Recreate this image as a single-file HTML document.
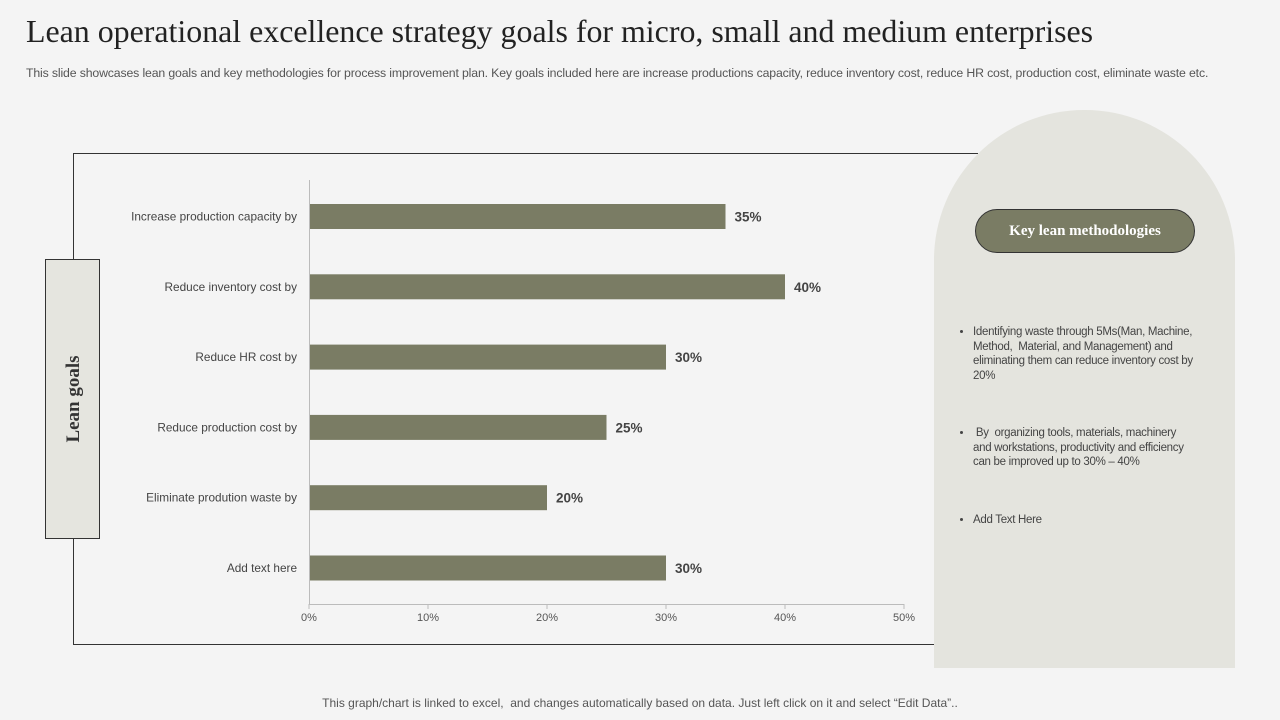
<!DOCTYPE html>
<html><head><meta charset="utf-8"><style>
body{margin:0;width:1280px;height:720px;background:#f4f4f4;overflow:hidden;position:relative;font-family:"Liberation Sans",sans-serif}
.abs{position:absolute}
</style></head><body>
<div class="abs" style="left:26px;top:14px;font-family:'Liberation Serif',serif;font-size:31.9px;color:#222;white-space:nowrap">Lean operational excellence strategy goals for micro, small and medium enterprises</div>
<div class="abs" style="left:26px;top:66px;font-size:12.3px;color:#555;white-space:nowrap;letter-spacing:-0.15px">This slide showcases lean goals and key methodologies for process improvement plan. Key goals included here are increase productions capacity, reduce inventory cost, reduce HR cost, production cost, eliminate waste etc.</div>
<svg class="abs" style="left:0;top:0" width="1280" height="720" id="chart">
<polyline points="978,153.5 73.5,153.5 73.5,644.5 934,644.5" fill="none" stroke="#333" stroke-width="1"/>
<rect x="45.5" y="259.5" width="54" height="279" fill="#e5e5df" stroke="#333"/>
<text transform="translate(79,399) rotate(-90)" text-anchor="middle" font-family="Liberation Serif,serif" font-weight="bold" font-size="19" fill="#333">Lean goals</text>
<line x1="309.5" y1="180" x2="309.5" y2="604" stroke="#bbb"/>
<line x1="309" y1="604.5" x2="904" y2="604.5" stroke="#bbb"/>
<g id="marks"></g>
</svg>
<div class="abs" style="left:934px;top:110px;width:301px;height:558px;background:#e4e4de;border-radius:150px 150px 0 0"></div>
<div class="abs" style="left:975px;top:209px;width:218px;height:42px;background:#7a7c64;border:1px solid #333;border-radius:22px;color:#fff;font-family:'Liberation Serif',serif;font-weight:bold;font-size:15px;text-align:center;line-height:42px">Key lean methodologies</div>
<ul class="abs" style="left:953px;top:325px;width:244px;margin:0;padding:0 0 0 20px;font-size:11.5px;color:#444;line-height:14.5px;letter-spacing:-0.3px">
<li style="margin-bottom:43px">Identifying waste through 5Ms(Man, Machine, Method,&nbsp; Material, and Management) and eliminating them can reduce inventory cost by 20%</li>
<li style="margin-bottom:43px">&nbsp;By&nbsp; organizing tools, materials, machinery<br>and workstations, productivity and efficiency<br>can be improved up to 30% – 40%</li>
<li>Add Text Here</li>
</ul>
<div class="abs" style="left:0;width:1280px;top:696px;text-align:center;font-size:12px;color:#555">This graph/chart is linked to excel,&nbsp; and changes automatically based on data. Just left click on it and select “Edit Data”..</div>
<script>
const categories=["Increase production capacity by","Reduce inventory cost by","Reduce HR cost by","Reduce production cost by","Eliminate prodution waste by","Add text here"];
const values=[35,40,30,25,20,30];
const ticks=[0,10,20,30,40,50];
const x=v=>309+v*11.9;
const y=i=>216.5+i*70.3;
const g=document.getElementById('marks');
const NS="http://www.w3.org/2000/svg";
function mk(t,a,txt){const e=document.createElementNS(NS,t);for(const k in a)e.setAttribute(k,a[k]);if(txt!=null)e.textContent=txt;g.appendChild(e);return e;}
categories.forEach((c,i)=>{
 const r=mk('rect',{x:x(0)+1,y:y(i)-12.5,width:x(values[i])-x(0)-1,height:25,fill:'#7a7c64'});
 
 
 const l=mk('text',{x:297,y:y(i)+4,'text-anchor':'end','font-size':11.8,fill:'#444'},c);
 
 
 const v=mk('text',{x:x(values[i])+9,y:y(i)+5,'font-size':13.5,'font-weight':'bold',fill:'#444'},values[i]+'%');
 
 
});
ticks.forEach(t=>{
 const tl=mk('text',{x:x(t),y:621,'text-anchor':'middle','font-size':11,fill:'#555'},t+'%');
 
 
 const tk=mk('line',{x1:x(t),x2:x(t),y1:604,y2:609,stroke:'#bbb'});
 
 
});
</script>
</body></html>
